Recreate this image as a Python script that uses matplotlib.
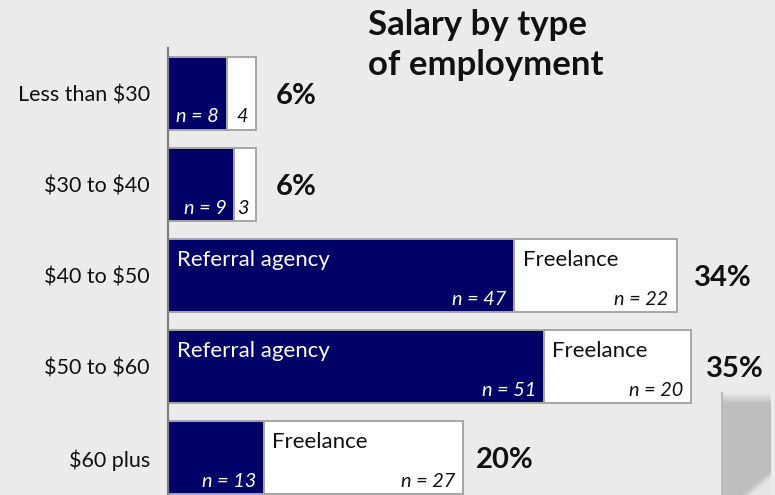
import numpy as np
import matplotlib
matplotlib.use("Agg")
import matplotlib.pyplot as plt

plt.rcParams["text.parse_math"] = False

# ---- data ----
categories = ["Less than $30", "$30 to $40", "$40 to $50", "$50 to $60", "$60 plus"]
agency = [8, 9, 47, 51, 13]
freelance = [4, 3, 22, 20, 27]
percent = [6, 6, 34, 35, 20]
agency_label = ["", "", "Referral agency", "Referral agency", ""]
freelance_label = ["", "", "Freelance", "Freelance", "Freelance"]
agency_n_text = ["n = 8", "n = 9", "n = 47", "n = 51", "n = 13"]
freelance_n_text = ["4", "3", "n = 22", "n = 20", "n = 27"]
title_lines = ["Salary by type", "of employment"]

# ---- style ----
BG = "#ebebeb"
NAVY = "#000066"
EDGE = "#a6a6a6"
FONT = "Lato"
W, H, DPI = 775, 495, 100
PX = 72.0 / DPI  # points per pixel

fig = plt.figure(figsize=(W / DPI, H / DPI), dpi=DPI, facecolor=BG)

# decorative shaded strip bottom-right
gx0, gx1, gy0, gy1 = 721, 771, 0, 103
gw, gh = gx1 - gx0, gy1 - gy0
yy, xx = np.mgrid[0:gh, 0:gw].astype(float)
img = np.full((gh, gw), 0.745)
fade = np.clip(yy / 11.0, 0, 1)  # row 0 = top
img = 0.92 * (1 - fade) + img * fade
img[:, :2] = np.minimum(img[:, :2], 0.73)
d = yy - 78 - (50 - xx) * 0.806
curl = np.clip(d / 8.0, 0, 1)
img = img * (1 - curl) + 0.90 * curl
gax = fig.add_axes([gx0 / W, gy0 / H, gw / W, gh / H])
gax.imshow(img, cmap="gray", vmin=0, vmax=1, aspect="auto", interpolation="bilinear")
gax.axis("off")

ax = fig.add_axes([168 / W, 0, 1 - 168 / W, (H - 48) / H])
ax.set_facecolor("none")
n = len(categories)
y = np.arange(n)
ax.set_xlim(0, (W - 168) / 7.37)
ax.set_ylim(4.407, -0.5)

ax.barh(y, agency, height=0.80, color=NAVY, edgecolor=EDGE, linewidth=1.4, zorder=2)
ax.barh(y, freelance, left=agency, height=0.80, color="white", edgecolor=EDGE,
        linewidth=1.4, zorder=2)

for s in ["top", "right", "bottom"]:
    ax.spines[s].set_visible(False)
ax.spines["left"].set_color("#808080")
ax.spines["left"].set_linewidth(1.6)
ax.spines["left"].set_zorder(3)
ax.set_xticks([])
ax.set_yticks(y)
ax.set_yticklabels(categories, fontfamily=FONT, fontsize=15.5, color="#111111")
ax.tick_params(axis="y", length=0, pad=18 * PX)

pct_pad_px = [19, 19, 17, 15, 13]
for i in range(n):
    top = i - 0.40
    bot = i + 0.40
    a = agency[i]
    tot = agency[i] + freelance[i]
    if agency_label[i]:
        ax.annotate(agency_label[i], xy=(0, top), xytext=(9 * PX, -26.5 * PX),
                    textcoords="offset points", ha="left", va="baseline",
                    color="white", fontsize=16, fontfamily=FONT, zorder=4)
    if freelance_label[i]:
        ax.annotate(freelance_label[i], xy=(a, top), xytext=(8.5 * PX, -26.5 * PX),
                    textcoords="offset points", ha="left", va="baseline",
                    color="#111111", fontsize=16, fontfamily=FONT, zorder=4)
    ax.annotate(agency_n_text[i], xy=(a, bot), xytext=(-8 * PX, 7.5 * PX),
                textcoords="offset points", ha="right", va="baseline",
                color="white", fontsize=14.3, fontstyle="italic", fontfamily=FONT, zorder=4)
    ax.annotate(freelance_n_text[i], xy=(tot, bot), xytext=(-8 * PX, 7.5 * PX),
                textcoords="offset points", ha="right", va="baseline",
                color="#111111", fontsize=14.3, fontstyle="italic", fontfamily=FONT, zorder=4)
    ax.annotate(f"{percent[i]}%", xy=(tot, i), xytext=(pct_pad_px[i] * PX, -10 * PX),
                textcoords="offset points", ha="left", va="baseline",
                color="#111111", fontsize=21, fontweight="bold", fontfamily=FONT, zorder=4)

for k, line in enumerate(title_lines):
    fig.text(368 / W, 1 - (35 + 40 * k) / H, line, ha="left", va="baseline",
             fontsize=25, fontweight="bold", fontfamily=FONT, color="#111111")

fig.savefig("out.png", dpi=DPI, facecolor=BG)
